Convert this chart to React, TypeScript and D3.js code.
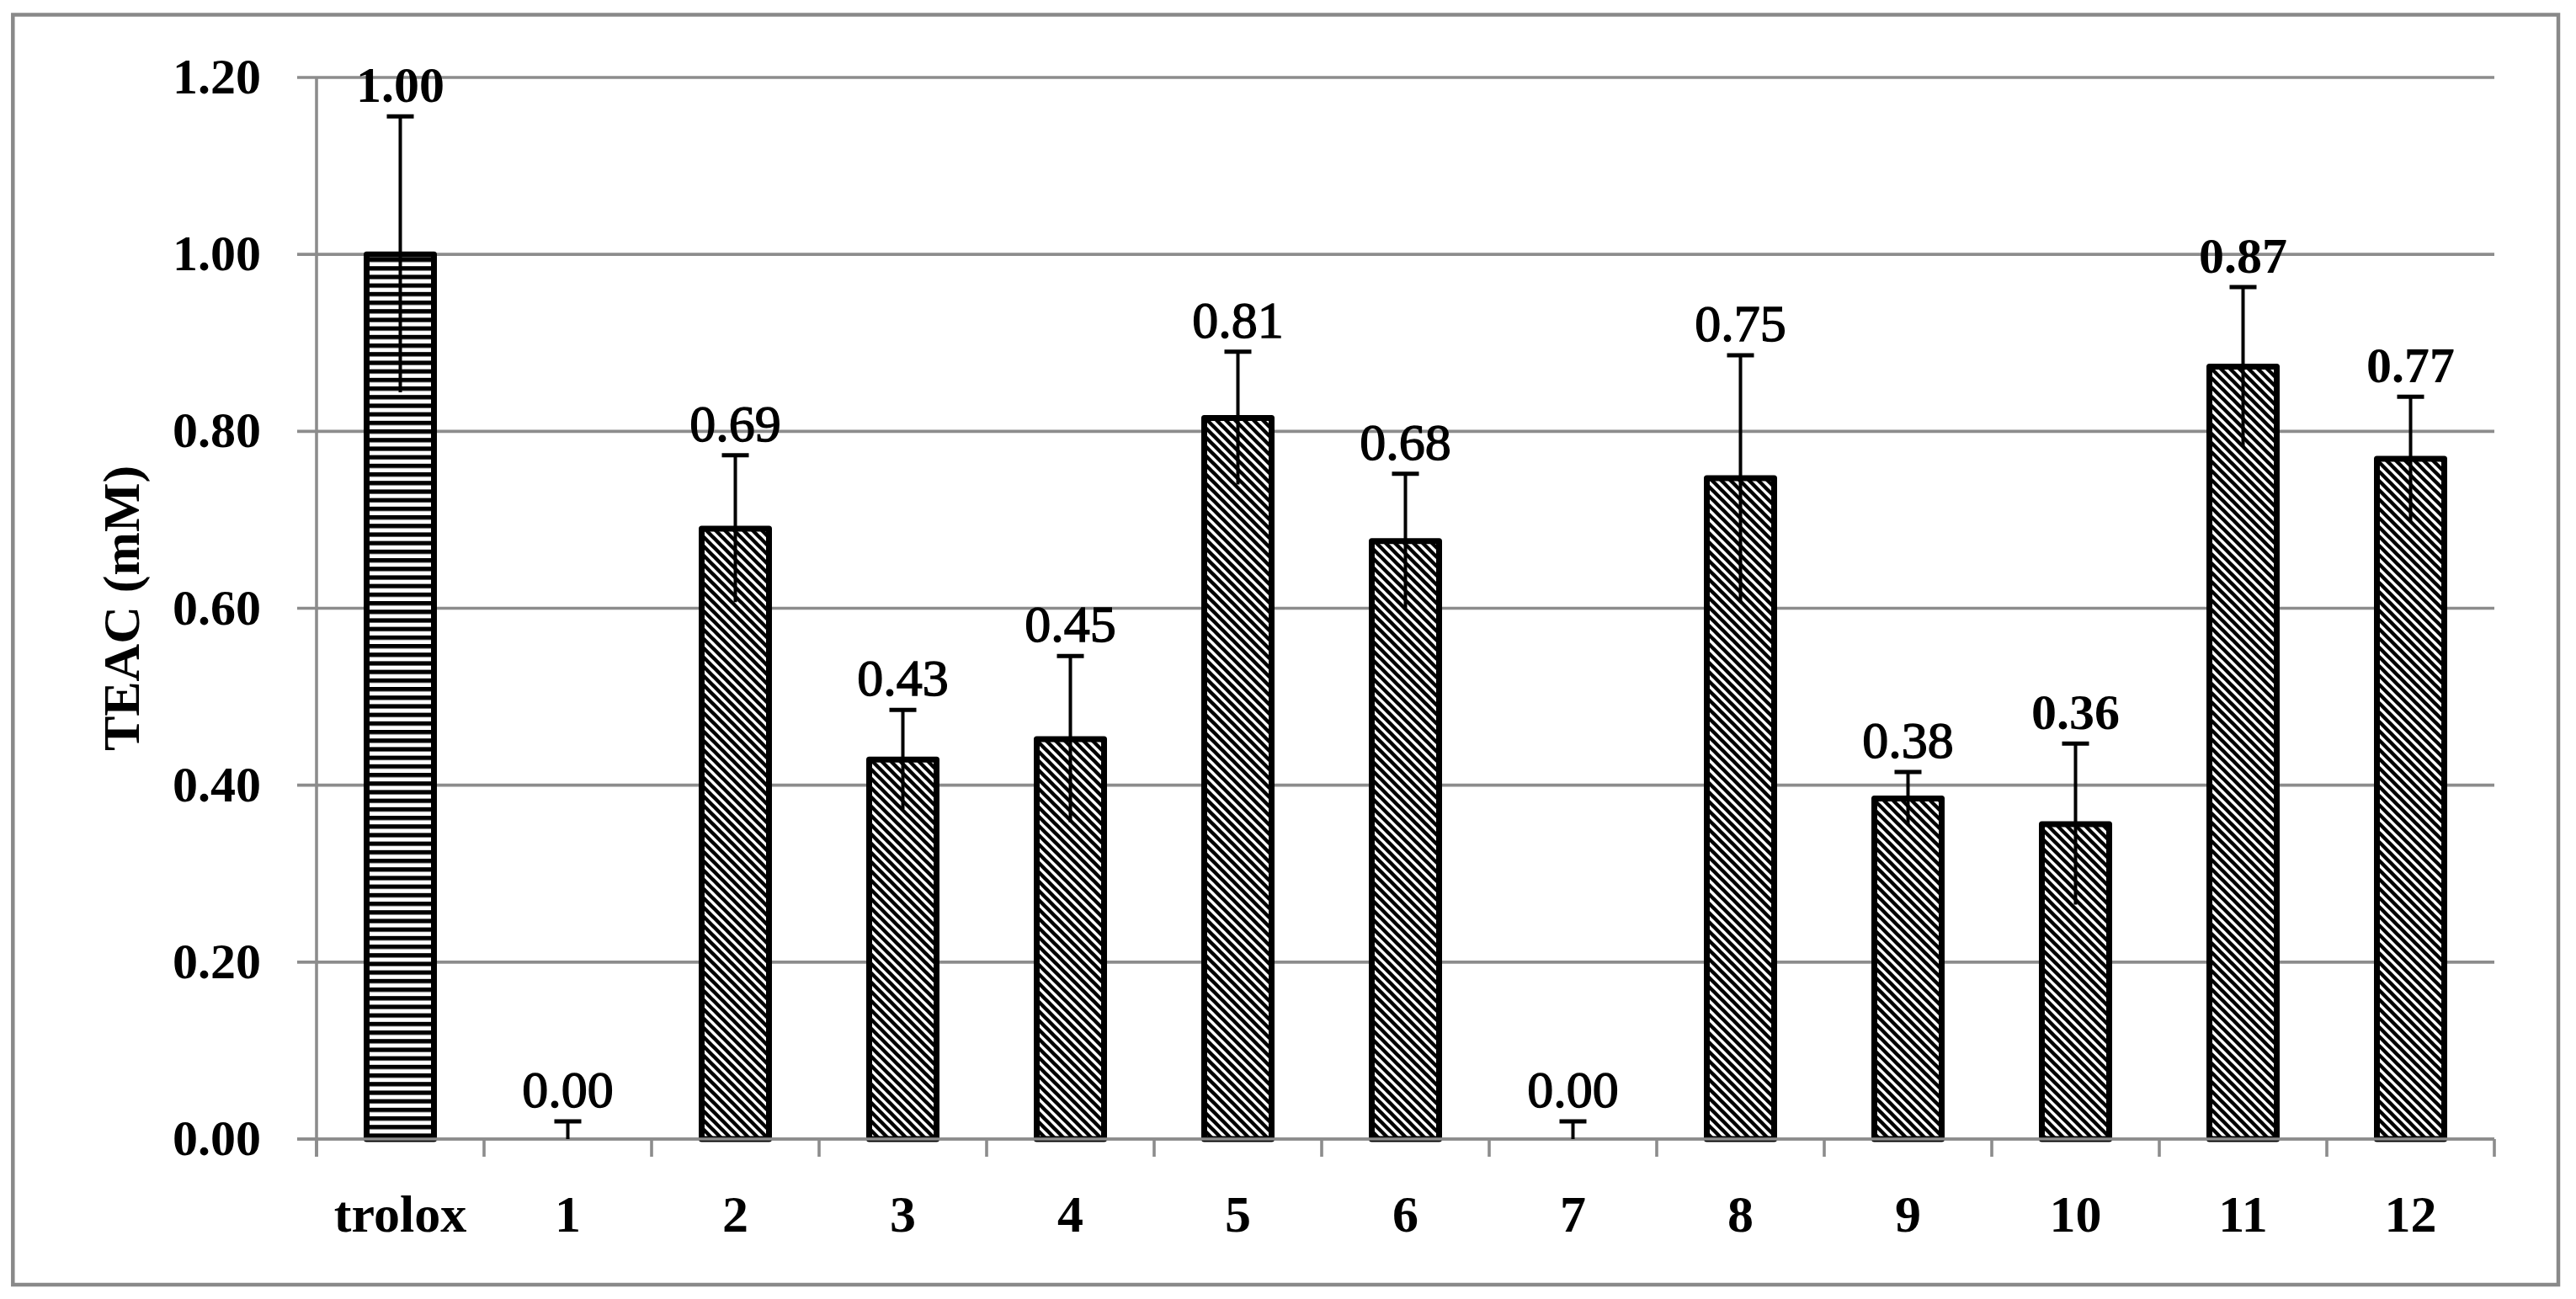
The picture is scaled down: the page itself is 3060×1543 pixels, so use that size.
import React, { useEffect } from 'react';
import * as d3 from 'd3';

const categories = ['trolox', '1', '2', '3', '4', '5', '6', '7', '8', '9', '10', '11', '12'];
const values = [1.0, 0.0, 0.69, 0.429, 0.452, 0.815, 0.676, 0.0, 0.747, 0.385, 0.356, 0.873, 0.769];
const errors = [0.156, 0.02, 0.083, 0.056, 0.094, 0.075, 0.076, 0.02, 0.139, 0.03, 0.091, 0.09, 0.07];
const valueLabels = ['1.00', '0.00', '0.69', '0.43', '0.45', '0.81', '0.68', '0.00', '0.75', '0.38', '0.36', '0.87', '0.77'];
const labelBold = [true, false, false, false, false, false, false, false, false, false, true, true, true];
const patterns = ['hstripe', 'diag', 'diag', 'diag', 'diag', 'diag', 'diag', 'diag', 'diag', 'diag', 'diag', 'diag', 'diag'];
const yTicks = [0, 0.2, 0.4, 0.6, 0.8, 1.0, 1.2];
const yTitle = 'TEAC (mM)';

const W = 3060;
const H = 1543;
const M = { left: 376, right: 2963, top: 92, bottom: 1353 };
const FONT = '"Liberation Serif", "Times New Roman", serif';
const GRID = '#8c8c8c';

export default function App() {
  useEffect(() => {
    document.body.style.margin = '0';
  }, []);

  const y = d3.scaleLinear().domain([0, 1.2]).range([M.bottom, M.top]);
  const x = d3.scaleBand<string>().domain(categories).range([M.left, M.right]).paddingInner(0).paddingOuter(0);
  const bw = x.bandwidth() * 0.402;
  const capW = 32;
  const fmt = d3.format('.2f');
  const boundaries = d3.range(categories.length + 1).map((i) => M.left + i * x.bandwidth());

  return (
    <svg width={W} height={H} style={{ display: 'block', background: '#fff' }} fontFamily={FONT}>
      <defs>
        <pattern id="hstripe" patternUnits="userSpaceOnUse" width={10} height={10.2}>
          <rect width={10} height={10.2} fill="#fff" />
          <rect y={0} width={10} height={5.2} fill="#000" />
        </pattern>
        <pattern id="diag" patternUnits="userSpaceOnUse" width={11} height={11}>
          <rect width={11} height={11} fill="#fff" />
          <path d="M-3,-3 L14,14 M-8.5,2.5 L3,14 M2.5,-8.5 L14,3" stroke="#000" strokeWidth={4.4} />
        </pattern>
      </defs>
      <rect x={0} y={0} width={W} height={H} fill="#fff" />
      <rect x={15.3} y={17.5} width={3039 - 15.3} height={1526 - 17.5} fill="none" stroke="#898989" strokeWidth={4.5} />

      {yTicks.map((t) => (
        <line key={'g' + t} x1={M.left - 23} x2={M.right} y1={y(t)} y2={y(t)} stroke={GRID} strokeWidth={3.6} />
      ))}
      <line x1={M.left} x2={M.left} y1={M.top} y2={M.bottom + 21} stroke={GRID} strokeWidth={3.6} />
      {boundaries.map((b, i) => (
        <line key={'xt' + i} x1={b} x2={b} y1={M.bottom} y2={M.bottom + 21} stroke={GRID} strokeWidth={3.6} />
      ))}

      {categories.map((c, i) =>
        values[i] > 0 ? (
          <rect
            key={'b' + c}
            x={(x(c) as number) + x.bandwidth() / 2 - bw / 2}
            y={y(values[i])}
            width={bw}
            height={y(0) - y(values[i])}
            fill={`url(#${patterns[i]})`}
            stroke="#000"
            strokeWidth={7}
            strokeLinejoin="round"
          />
        ) : null
      )}

      <line x1={M.left - 23} x2={M.right} y1={y(0)} y2={y(0)} stroke={GRID} strokeWidth={3.6} />

      {categories.map((c, i) => {
        const cx = (x(c) as number) + x.bandwidth() / 2;
        const top = y(values[i] + errors[i]);
        const bot = y(Math.max(0, values[i] - errors[i]));
        return (
          <g key={'e' + c} stroke="#000" strokeWidth={4}>
            <line x1={cx} x2={cx} y1={top} y2={bot} />
            <line x1={cx - capW / 2} x2={cx + capW / 2} y1={top} y2={top} strokeWidth={5} />
          </g>
        );
      })}

      {categories.map((c, i) => (
        <text
          key={'v' + c}
          x={(x(c) as number) + x.bandwidth() / 2}
          y={y(values[i] + errors[i]) - 17}
          textAnchor="middle"
          fontSize={labelBold[i] ? 60 : 62}
          fontWeight={labelBold[i] ? 'bold' : 'normal'}
          fill="#000"
          stroke={labelBold[i] ? 'none' : '#000'}
          strokeWidth={labelBold[i] ? 0 : 1.4}
        >
          {valueLabels[i]}
        </text>
      ))}

      {yTicks.map((t) => (
        <text key={'yl' + t} x={310} y={y(t) + 19} textAnchor="end" fontSize={60} fontWeight="bold" fill="#000">
          {fmt(t)}
        </text>
      ))}

      {categories.map((c) => (
        <text
          key={'xl' + c}
          x={(x(c) as number) + x.bandwidth() / 2}
          y={1463}
          textAnchor="middle"
          fontSize={62}
          fontWeight="bold"
          fill="#000"
        >
          {c}
        </text>
      ))}

      <text
        transform={`translate(165, ${(M.top + M.bottom) / 2}) rotate(-90)`}
        textAnchor="middle"
        fontSize={62}
        fontWeight="bold"
        fill="#000"
      >
        {yTitle}
      </text>
    </svg>
  );
}
